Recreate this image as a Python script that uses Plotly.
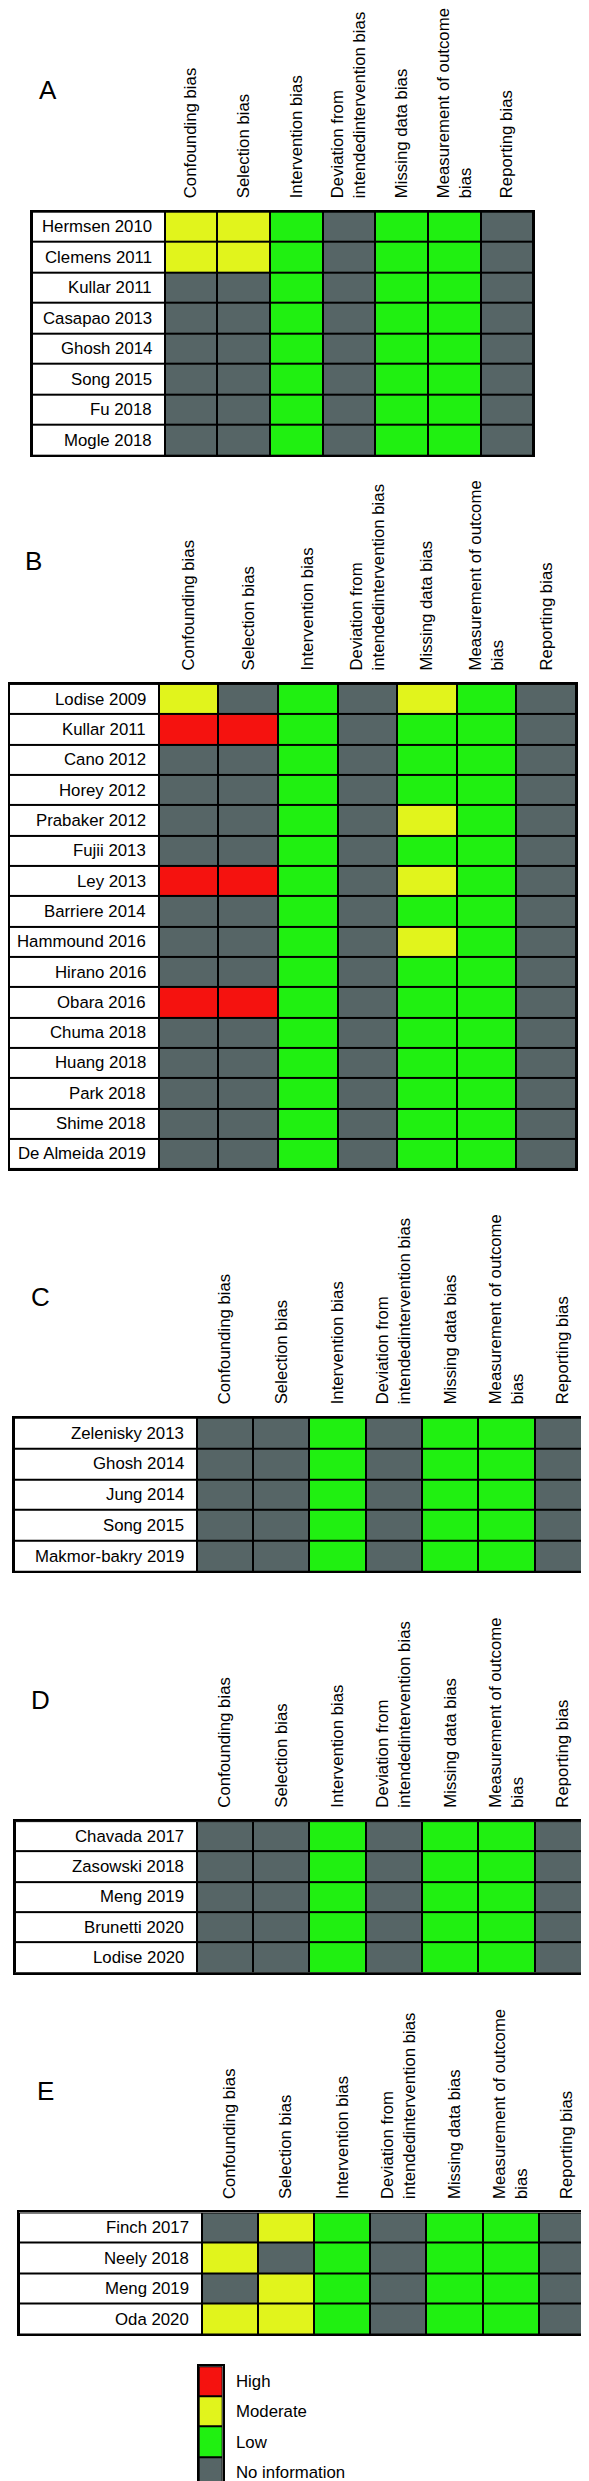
import plotly.graph_objects as go

W, H = 589, 2481

criteria = ["Confounding bias", "Selection bias", "Intervention bias",
            "Deviation from<br>intendedintervention bias", "Missing data bias",
            "Measurement of outcome<br>bias", "Reporting bias"]

levels = ["High", "Moderate", "Low", "No information"]
level_code = {"H": 1, "M": 2, "L": 3, "N": 4}

studies_A = ["Hermsen 2010", "Clemens 2011", "Kullar 2011", "Casapao 2013",
             "Ghosh 2014", "Song 2015", "Fu 2018", "Mogle 2018"]
ratings_A = ["MMLNLLN", "MMLNLLN", "NNLNLLN", "NNLNLLN",
             "NNLNLLN", "NNLNLLN", "NNLNLLN", "NNLNLLN"]

studies_B = ["Lodise 2009", "Kullar 2011", "Cano 2012", "Horey 2012", "Prabaker 2012",
             "Fujii 2013", "Ley 2013", "Barriere 2014", "Hammound 2016", "Hirano 2016",
             "Obara 2016", "Chuma 2018", "Huang 2018", "Park 2018", "Shime 2018",
             "De Almeida 2019"]
ratings_B = ["MNLNMLN", "HHLNLLN", "NNLNLLN", "NNLNLLN", "NNLNMLN",
             "NNLNLLN", "HHLNMLN", "NNLNLLN", "NNLNMLN", "NNLNLLN",
             "HHLNLLN", "NNLNLLN", "NNLNLLN", "NNLNLLN", "NNLNLLN",
             "NNLNLLN"]

studies_C = ["Zelenisky 2013", "Ghosh 2014", "Jung 2014", "Song 2015", "Makmor-bakry 2019"]
ratings_C = ["NNLNLLN"] * 5

studies_D = ["Chavada 2017", "Zasowski 2018", "Meng 2019", "Brunetti 2020", "Lodise 2020"]
ratings_D = ["NNLNLLN"] * 5

studies_E = ["Finch 2017", "Neely 2018", "Meng 2019", "Oda 2020"]
ratings_E = ["NMLNLLN", "MNLNLLN", "NMLNLLN", "MMLNLLN"]

WHITE, RED, YELLOW, GREEN, GRAY = "#ffffff", "#f5120f", "#e1f41c", "#20f011", "#566566"
colorscale = [[0.0, WHITE], [0.2, WHITE], [0.2, RED], [0.4, RED], [0.4, YELLOW],
              [0.6, YELLOW], [0.6, GREEN], [0.8, GREEN], [0.8, GRAY], [1.0, GRAY]]

FONT = "Arial, 'Liberation Sans', sans-serif"
FS = 16.8

# geometry (pixels): left, name column right edge, right, top, bottom ; label centre
panels = [
    ("A", studies_A, ratings_A, (24, 157, 526, 200, 444), (40, 78)),
    ("B", studies_B, ratings_B, (1, 151, 569, 673, 1159), (26, 550)),
    ("C", studies_C, ratings_C, (6, 189, 584, 1408, 1562), (33, 1287)),
    ("D", studies_D, ratings_D, (7, 189, 584, 1812, 1964), (33, 1691)),
    ("E", studies_E, ratings_E, (11, 194, 588, 2204, 2326), (37.5, 2082)),
]

fig = go.Figure()
annotations = []
layout_axes = {}

for k, (label, studies, ratings, geo, lab_pos) in enumerate(panels, start=1):
    left, name_right, right, top, bottom = geo
    col_w = (right - name_right) / 7.0
    ratio = (name_right - left) / col_w
    n = len(studies)
    z = [[0] + [level_code[c] for c in r] for r in ratings]
    xs = "" if k == 1 else str(k)
    fig.add_trace(go.Heatmap(
        z=z, x=[-ratio] + list(range(8)), y=list(range(n + 1)),
        zmin=-0.5, zmax=4.5, colorscale=colorscale, showscale=False,
        xgap=2, ygap=2, hoverinfo="skip", xaxis="x" + xs, yaxis="y" + xs))
    layout_axes["xaxis" + xs] = dict(
        domain=[left / W, right / W], anchor="y" + xs, range=[-ratio, 7],
        side="top", tickmode="array", tickvals=[i + 0.5 for i in range(7)],
        ticktext=criteria, tickangle=-90, ticks="", ticklabelstandoff=8,
        tickfont=dict(family=FONT, size=FS, color="black"),
        showline=True, linecolor="black", linewidth=2, mirror=True,
        showgrid=False, zeroline=False, fixedrange=True)
    layout_axes["yaxis" + xs] = dict(
        domain=[1 - bottom / H, 1 - top / H], anchor="x" + xs, range=[n, 0],
        showticklabels=False, ticks="", showline=True, linecolor="black",
        linewidth=2, mirror=True, showgrid=False, zeroline=False, fixedrange=True)
    for i, s in enumerate(studies):
        annotations.append(dict(
            x=-10.5 / col_w, y=i + 0.5, xref="x" + xs, yref="y" + xs, text=s,
            showarrow=False, xanchor="right", yanchor="middle",
            font=dict(family=FONT, size=FS, color="black")))
    annotations.append(dict(
        x=lab_pos[0] / W, y=1 - lab_pos[1] / H, xref="paper", yref="paper",
        text=label, showarrow=False, xanchor="center", yanchor="middle",
        font=dict(family=FONT, size=26, color="black")))

# legend as a one-column heatmap
lk = str(len(panels) + 1)
fig.add_trace(go.Heatmap(
    z=[[1], [2], [3], [4]], x=[0, 1], y=list(range(5)),
    zmin=-0.5, zmax=4.5, colorscale=colorscale, showscale=False,
    xgap=2, ygap=2, hoverinfo="skip", xaxis="x" + lk, yaxis="y" + lk))
layout_axes["xaxis" + lk] = dict(
    domain=[191 / W, 215 / W], anchor="y" + lk, range=[0, 1], showticklabels=False,
    ticks="", showline=True, linecolor="black", linewidth=2, mirror=True,
    showgrid=False, zeroline=False, fixedrange=True)
layout_axes["yaxis" + lk] = dict(
    domain=[1 - 2479 / H, 1 - 2358 / H], anchor="x" + lk, range=[4, 0], side="right",
    tickmode="array", tickvals=[0.5, 1.5, 2.5, 3.5], ticktext=levels, ticks="",
    ticklabelstandoff=8, tickfont=dict(family=FONT, size=FS, color="black"),
    showline=True, linecolor="black", linewidth=2, mirror=True,
    showgrid=False, zeroline=False, fixedrange=True)

fig.update_layout(
    width=W, height=H, autosize=False,
    margin=dict(l=0, r=0, t=0, b=0, pad=0),
    paper_bgcolor="white", plot_bgcolor="black",
    showlegend=False, annotations=annotations, **layout_axes)

fig.write_html("out.html", config={"displayModeBar": False})
